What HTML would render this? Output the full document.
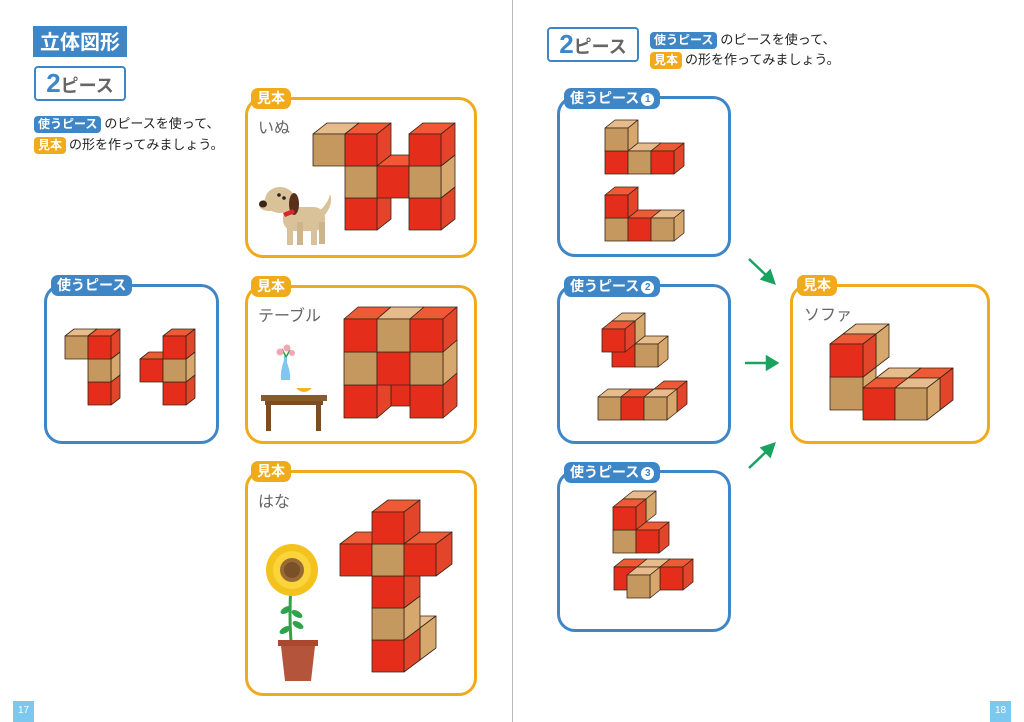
<!DOCTYPE html>
<html><head><meta charset="utf-8">
<style>
body{margin:0;width:1024px;height:722px;background:#fff;position:relative;overflow:hidden;font-family:"Liberation Sans","Noto Sans CJK JP",sans-serif}
.a{position:absolute}
.bb{position:absolute;border:3.5px solid #3f86c6;border-radius:18px;box-sizing:border-box;background:#fff}
.ob{position:absolute;border:3.5px solid #f0aa1c;border-radius:18px;box-sizing:border-box;background:#fff}
.tb{position:absolute;background:#3f86c6;color:#fff;font-weight:bold;border-radius:7px;font-size:14px;line-height:21px;padding:0 6px;white-space:nowrap}
.to{position:absolute;background:#f0aa1c;color:#fff;font-weight:bold;border-radius:7px;font-size:14px;line-height:21px;padding:0 6px;white-space:nowrap}
.lbl{position:absolute;color:#666;font-size:16px}
.txt{position:absolute;font-size:13px;color:#222;white-space:nowrap}
.chip{display:inline-block;color:#fff;font-weight:bold;border-radius:4px;padding:0 4px;font-size:12px;line-height:17px;margin-right:3px}
.num{display:inline-block;width:13px;height:13px;border-radius:50%;background:#fff;color:#3f86c6;font-size:10px;line-height:13px;text-align:center;vertical-align:1px;margin-left:2px}
</style></head><body>
<div class="a" style="left:512px;top:0;width:1px;height:722px;background:#bbb"></div>
<div class="a" style="left:33px;top:26px;width:94px;height:31px;background:#3f86c6;color:#fff;font-weight:bold;font-size:20px;line-height:34px;text-align:center">立体図形</div>
<div class="a" style="left:34px;top:66px;width:92px;height:35px;border:2.5px solid #3f86c6;border-radius:4px;box-sizing:border-box;font-weight:bold;color:#666;font-size:18px;line-height:30px;text-align:center"><span style="color:#3f86c6;font-size:26px">2</span>ピース</div>
<div class="txt" style="left:34px;top:113px"><span class="chip" style="background:#3f86c6">使うピース</span>のピースを使って、</div>
<div class="txt" style="left:34px;top:134px"><span class="chip" style="background:#f0aa1c">見本</span>の形を作ってみましょう。</div>

<div class="a" style="left:547px;top:27px;width:92px;height:35px;border:2.5px solid #3f86c6;border-radius:4px;box-sizing:border-box;font-weight:bold;color:#666;font-size:18px;line-height:30px;text-align:center"><span style="color:#3f86c6;font-size:26px">2</span>ピース</div>
<div class="txt" style="left:650px;top:29px"><span class="chip" style="background:#3f86c6">使うピース</span>のピースを使って、</div>
<div class="txt" style="left:650px;top:49px"><span class="chip" style="background:#f0aa1c">見本</span>の形を作ってみましょう。</div>

<div class="ob" style="left:245px;top:97px;width:232px;height:161px"></div>
<div class="to" style="left:251px;top:88px">見本</div><div class="lbl" style="left:258px;top:114px">いぬ</div>
<div class="ob" style="left:245px;top:285px;width:232px;height:159px"></div>
<div class="to" style="left:251px;top:276px">見本</div><div class="lbl" style="left:258px;top:302px">テーブル</div>
<div class="ob" style="left:245px;top:470px;width:232px;height:226px"></div>
<div class="to" style="left:251px;top:461px">見本</div><div class="lbl" style="left:258px;top:488px">はな</div>
<div class="bb" style="left:44px;top:284px;width:175px;height:160px"></div>
<div class="tb" style="left:51px;top:275px">使うピース</div>

<div class="bb" style="left:557px;top:96px;width:174px;height:161px"></div>
<div class="tb" style="left:564px;top:88px">使うピース<span class="num">1</span></div>
<div class="bb" style="left:557px;top:284px;width:174px;height:160px"></div>
<div class="tb" style="left:564px;top:276px">使うピース<span class="num">2</span></div>
<div class="bb" style="left:557px;top:470px;width:174px;height:162px"></div>
<div class="tb" style="left:564px;top:462px">使うピース<span class="num">3</span></div>
<div class="ob" style="left:790px;top:284px;width:200px;height:160px"></div>
<div class="to" style="left:797px;top:275px">見本</div><div class="lbl" style="left:804px;top:301px">ソファ</div>

<div class="a" style="left:13px;top:701px;width:21px;height:21px;background:#7cc8ef;color:#fff;font-size:10px;text-align:center;line-height:20px">17</div>
<div class="a" style="left:990px;top:701px;width:21px;height:21px;background:#7cc8ef;color:#fff;font-size:10px;text-align:center;line-height:20px">18</div>

<svg class="a" style="left:0;top:0" width="1024" height="722" id="s">
<g stroke="#1aa260" stroke-width="2.5" fill="#1aa260">
<line x1="749" y1="259" x2="768" y2="277"/><polygon points="774,283 762,279 770,271"/>
<line x1="745" y1="363" x2="768" y2="363"/><polygon points="777,363 767,357 767,369"/>
<line x1="749" y1="468" x2="768" y2="450"/><polygon points="774,444 770,456 762,448"/>
</g>
<g>
<path d="M318 212 q10 -8 12 -18 q4 10 -6 22z" fill="#d9c19a"/>
<rect x="283" y="207" width="42" height="24" rx="11" fill="#d9c19a"/>
<rect x="287" y="222" width="6" height="23" fill="#d9c19a"/><rect x="297" y="222" width="6" height="23" fill="#cdb48b"/>
<rect x="311" y="222" width="6" height="23" fill="#d9c19a"/><rect x="319" y="222" width="6" height="22" fill="#cdb48b"/>
<ellipse cx="280" cy="200" rx="15" ry="13" fill="#d9c19a"/>
<ellipse cx="269" cy="205" rx="10" ry="6" fill="#d9c19a"/>
<ellipse cx="263" cy="204" rx="4" ry="3.5" fill="#3b2416"/>
<ellipse cx="294" cy="204" rx="5" ry="11" fill="#5a2f1a"/>
<circle cx="279" cy="195" r="1.8" fill="#222"/><circle cx="284" cy="198" r="1.8" fill="#222"/>
<path d="M283 213 l10 -4 l2 4 l-10 4z" fill="#d8262a"/>
</g>
<g>
<path d="M284 360 q-4 12 -3 20 l9 0 q1 -8 -4 -20z" fill="#7ec8ef"/>
<rect x="284" y="356" width="3" height="6" fill="#7ec8ef"/>
<path d="M286 357 l-4 -8 M286 357 l4 -7" stroke="#2e9e4a" stroke-width="1.5"/>
<circle cx="280" cy="352" r="3.5" fill="#f4a6b8"/><circle cx="287" cy="348" r="3.5" fill="#f4a6b8"/><circle cx="292" cy="353" r="3" fill="#f4a6b8"/>
<path d="M296 388 q8 8 16 0z" fill="#f3b41c"/>
<rect x="261" y="395" width="66" height="6" fill="#8a5a2b"/>
<rect x="265" y="401" width="58" height="4" fill="#7a4e24"/>
<rect x="266" y="401" width="5" height="30" fill="#7a4e24"/><rect x="316" y="401" width="5" height="30" fill="#7a4e24"/>
</g>
<g>
<path d="M291 585 q-2 30 0 56" stroke="#2ea34a" stroke-width="3" fill="none"/>
<ellipse cx="286" cy="610" rx="6" ry="3" fill="#2ea34a" transform="rotate(-30 286 610)"/>
<ellipse cx="297" cy="614" rx="6" ry="3" fill="#2ea34a" transform="rotate(30 297 614)"/>
<ellipse cx="285" cy="630" rx="6" ry="3" fill="#2ea34a" transform="rotate(-30 285 630)"/>
<ellipse cx="298" cy="625" rx="6" ry="3" fill="#2ea34a" transform="rotate(30 298 625)"/>
<circle cx="292" cy="570" r="26" fill="#f4c21d"/>
<circle cx="292" cy="570" r="19" fill="#f9d43a"/>
<circle cx="292" cy="570" r="12" fill="#9a6a35"/>
<circle cx="292" cy="570" r="8" fill="#7a5028"/>
<rect x="278" y="640" width="40" height="6" fill="#a9482e"/>
<path d="M281 646 l34 0 l-4 35 l-26 0z" fill="#b4543a"/>
</g>
<g id="cubes"></g>
</svg>
<script>
var C={r:["#e52d1c","#ef5a36","#e2452a"],t:["#c4985f","#e6bc8c","#d6a86d"]};
var out="";
function g(ox,oy,s,dx,dy,list){
 var l=list.slice();
 l.sort(function(a,b){return (b[2]-a[2])||(a[0]-b[0])||(a[1]-b[1]);});
 l.forEach(function(c){
  var X=ox+c[0]*s+c[2]*dx, Y=oy-(c[1]+1)*s-c[2]*dy, k=C[c[3]];
  var st=' stroke="#3a2416" stroke-width="0.8" stroke-linejoin="round"';
  out+='<polygon points="'+X+','+Y+' '+(X+dx)+','+(Y-dy)+' '+(X+s+dx)+','+(Y-dy)+' '+(X+s)+','+Y+'" fill="'+k[1]+'"'+st+'/>';
  out+='<polygon points="'+(X+s)+','+Y+' '+(X+s+dx)+','+(Y-dy)+' '+(X+s+dx)+','+(Y+s-dy)+' '+(X+s)+','+(Y+s)+'" fill="'+k[2]+'"'+st+'/>';
  out+='<rect x="'+X+'" y="'+Y+'" width="'+s+'" height="'+s+'" fill="'+k[0]+'"'+st+'/>';
 });
}
g(313,230,32,14,11,[[0,2,0,'t'],[1,2,0,'r'],[3,2,0,'r'],[1,1,0,'t'],[2,1,0,'r'],[3,1,0,'t'],[1,0,0,'r'],[3,0,0,'r']]);
g(344,418,33,14,12,[[1,0,1,'r'],[0,2,0,'r'],[1,2,0,'t'],[2,2,0,'r'],[0,1,0,'t'],[1,1,0,'r'],[2,1,0,'t'],[0,0,0,'r'],[2,0,0,'r']]);
g(65,405,23,9,7,[[0,2,0,'t'],[1,2,0,'r'],[1,1,0,'t'],[1,0,0,'r']]);
g(140,405,23,9,7,[[0,1,0,'r'],[1,2,0,'r'],[1,1,0,'t'],[1,0,0,'r']]);
g(340,672,32,16,12,[[1,0,1,'t'],[1,4,0,'r'],[0,3,0,'r'],[1,3,0,'t'],[2,3,0,'r'],[1,2,0,'r'],[1,1,0,'t'],[1,0,0,'r']]);
g(605,174,23,10,8,[[0,1,0,'t'],[0,0,0,'r'],[1,0,0,'t'],[2,0,0,'r']]);
g(605,241,23,10,8,[[0,1,0,'r'],[0,0,0,'t'],[1,0,0,'r'],[2,0,0,'t']]);
g(602,375,23,10,8,[[0,1,1,'t'],[0,0,1,'r'],[1,0,1,'t'],[0,1,0,'r']]);
g(598,420,23,10,8,[[2,0,1,'r'],[0,0,0,'t'],[1,0,0,'r'],[2,0,0,'t']]);
g(613,553,23,10,8,[[0,1,1,'t'],[0,1,0,'r'],[0,0,0,'t'],[1,0,0,'r']]);
g(604,598,23,10,8,[[0,0,1,'r'],[1,0,1,'t'],[2,0,1,'r'],[1,0,0,'t']]);
g(863,420,32,13,10,[[0,0,1,'t'],[1,0,1,'r']]);
g(830,410,33,13,10,[[0,1,1,'t'],[0,0,0,'t'],[0,1,0,'r']]);
g(863,420,32,13,10,[[0,0,0,'r'],[1,0,0,'t']]);
document.getElementById('cubes').innerHTML=out;
</script>
</body></html>
